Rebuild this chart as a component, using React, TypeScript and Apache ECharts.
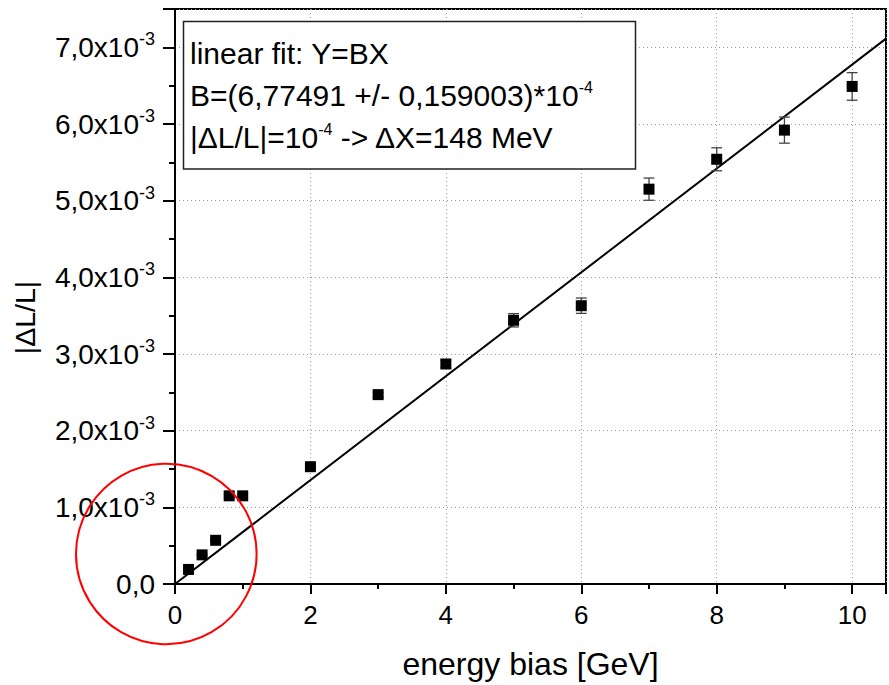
import React, { useEffect, useRef } from "react";
import * as echarts from "echarts";

// energy bias [GeV]
const energyBias = [0.2, 0.4, 0.6, 0.8, 1, 2, 3, 4, 5, 6, 7, 8, 9, 10];
// |ΔL/L| in units of 10^-3
const deltaLL = [0.19, 0.38, 0.57, 1.15, 1.15, 1.53, 2.47, 2.87, 3.44, 3.63, 5.15, 5.54, 5.92, 6.49];
// error bars in units of 10^-3
const deltaErr = [0.01, 0.01, 0.01, 0.02, 0.02, 0.02, 0.03, 0.05, 0.087, 0.1, 0.145, 0.15, 0.17, 0.18];
// linear fit Y = B X, B = 6.77491e-4 -> 0.677491 in units of 10^-3
const fitSlope = 0.677491;
const fitRangeX = [0, 10.5];
const xTickLabels = ["0", "2", "4", "6", "8", "10"];
const yTickLabels = ["0,0", "1,0", "2,0", "3,0", "4,0", "5,0", "6,0", "7,0"];

const FONT = "Liberation Sans, Arial, sans-serif";

export default function App() {
  const ref = useRef<HTMLDivElement>(null);
  useEffect(() => {
    document.body.style.margin = "0";
    const chart = echarts.init(ref.current!, null, { renderer: "svg" });
    const points = energyBias.map((x, i) => [x, deltaLL[i]]);
    const errData = energyBias.map((x, i) => [x, deltaLL[i], deltaErr[i]]);
    const fitData = fitRangeX.map((x) => [x, fitSlope * x]);

    const legendRich = {
      a: { fontSize: 30, lineHeight: 32, fill: "#000", fontFamily: FONT },
      s: { fontSize: 16, lineHeight: 16, fill: "#000", fontFamily: FONT, verticalAlign: "top" },
    };

    const option: any = {
      animation: false,
      backgroundColor: "#ffffff",
      textStyle: { fontFamily: FONT },
      grid: {
        left: 175,
        top: 9,
        width: 715.8,
        height: 577.5,
        show: true,
        borderColor: "#000",
        borderWidth: 2,
        backgroundColor: "transparent",
      },
      xAxis: [
        {
          type: "value",
          min: 0,
          max: 10.5,
          interval: 2,
          axisLine: { show: true, onZero: false, lineStyle: { color: "#000", width: 2 } },
          axisTick: { show: true, inside: false, length: 10, lineStyle: { color: "#000", width: 2 } },
          axisLabel: {
            color: "#000",
            fontSize: 26,
            fontFamily: FONT,
            margin: 18,
            formatter: (v: number) => {
              const i = xTickLabels.indexOf(String(v));
              return i >= 0 ? xTickLabels[i] : "";
            },
          },
          splitLine: { show: true, lineStyle: { color: "#9a9a9a", type: [1, 3], width: 1 } },
          name: "energy bias [GeV]",
          nameLocation: "middle",
          nameGap: 64,
          nameTextStyle: { color: "#000", fontSize: 32, fontFamily: FONT },
        },
        {
          type: "value",
          min: 0,
          max: 10.5,
          interval: 1,
          position: "bottom",
          axisLine: { show: false },
          axisTick: { show: true, inside: false, length: 5, lineStyle: { color: "#000", width: 2 } },
          axisLabel: { show: false },
          splitLine: { show: false },
        },
      ],
      yAxis: [
        {
          type: "value",
          min: 0,
          max: 7.5,
          interval: 1,
          axisLine: { show: true, onZero: false, lineStyle: { color: "#000", width: 2 } },
          axisTick: { show: true, inside: false, length: 12, lineStyle: { color: "#000", width: 2 } },
          axisLabel: {
            color: "#000",
            fontFamily: FONT,
            margin: 20,
            formatter: (v: number) => {
              const i = Math.round(v);
              if (Math.abs(v - i) > 1e-6 || i < 0 || i >= yTickLabels.length) return "";
              if (i === 0) return "{a|" + yTickLabels[0] + "}";
              return "{a|" + yTickLabels[i] + "x10}{s|-3}";
            },
            rich: {
              a: { fontSize: 28, lineHeight: 34, color: "#000", fontFamily: FONT },
              s: { fontSize: 18, lineHeight: 18, color: "#000", fontFamily: FONT, verticalAlign: "top" },
            },
          },
          splitLine: { show: true, lineStyle: { color: "#9a9a9a", type: [1, 3], width: 1 } },
          name: "|ΔL/L|",
          nameLocation: "middle",
          nameRotate: 90,
          nameGap: 136,
          nameTextStyle: { color: "#000", fontSize: 28.5, fontFamily: FONT, padding: [0, 42, 0, 0] },
        },
        {
          type: "value",
          min: 0,
          max: 7.5,
          interval: 0.5,
          position: "left",
          axisLine: { show: false },
          axisTick: { show: true, inside: false, length: 6, lineStyle: { color: "#000", width: 2 } },
          axisLabel: { show: false },
          splitLine: { show: false },
        },
      ],
      series: [
        {
          type: "line",
          data: fitData,
          showSymbol: false,
          symbol: "none",
          lineStyle: { color: "#000", width: 2 },
          z: 3,
        },
        {
          type: "custom",
          data: errData,
          z: 4,
          renderItem: (params: any, api: any) => {
            const x = api.value(0);
            const y = api.value(1);
            const e = api.value(2);
            const top = api.coord([x, y + e]);
            const bot = api.coord([x, y - e]);
            const hw = 5.4;
            const style = { stroke: "#444", lineWidth: 1.3 };
            return {
              type: "group",
              children: [
                { type: "line", shape: { x1: top[0], y1: top[1], x2: bot[0], y2: bot[1] }, style },
                { type: "line", shape: { x1: top[0] - hw, y1: top[1], x2: top[0] + hw, y2: top[1] }, style },
                { type: "line", shape: { x1: bot[0] - hw, y1: bot[1], x2: bot[0] + hw, y2: bot[1] }, style },
              ],
            };
          },
        },
        {
          type: "scatter",
          data: points,
          symbol: "rect",
          symbolSize: 11,
          itemStyle: { color: "#000", opacity: 1 },
          z: 5,
        },
      ],
      graphic: [
        {
          type: "rect",
          shape: { x: 183.5, y: 21.5, width: 452, height: 147.5 },
          style: { fill: "#fff", stroke: "#222", lineWidth: 1.5 },
          z: 50,
        },
        {
          type: "text",
          x: 190,
          y: 53,
          z: 51,
          style: {
            text: "{a|linear fit: Y=BX}",
            verticalAlign: "middle",
            rich: legendRich,
          },
        },
        {
          type: "text",
          x: 190,
          y: 95,
          z: 51,
          style: {
            text: "{a|B=(6,77491 +/- 0,159003)*10}{s|-4}",
            verticalAlign: "middle",
            rich: legendRich,
          },
        },
        {
          type: "text",
          x: 190,
          y: 137.5,
          z: 51,
          style: {
            text: "{a|\u007CΔL/L\u007C=10}{s|-4}{a| -> ΔX=148 MeV}",
            verticalAlign: "middle",
            rich: legendRich,
          },
        },
        {
          type: "circle",
          shape: { cx: 166.3, cy: 554, r: 90.3 },
          style: { fill: "none", stroke: "#ff0000", lineWidth: 2 },
          z: 60,
        },
      ],
    };
    chart.setOption(option);
    return () => chart.dispose();
  }, []);
  return <div ref={ref} style={{ width: 889, height: 685 }} />;
}
